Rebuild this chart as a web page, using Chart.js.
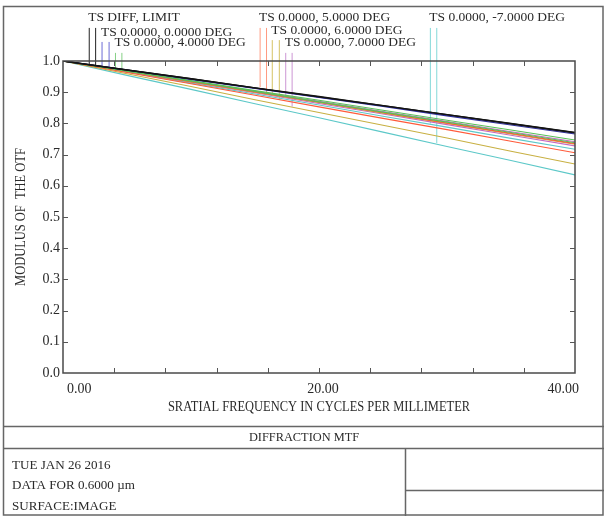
<!DOCTYPE html>
<html>
<head>
<meta charset="utf-8">
<script src="https://cdn.jsdelivr.net/npm/chart.js@4"></script>
<style>
  html, body { margin: 0; padding: 0; background: #fff; }
  #wrap { position: relative; width: 604px; height: 516px; }
</style>
</head>
<body>
<div id="wrap"><canvas id="mtf"></canvas></div>
<script>
// spatial frequency samples (cycles/mm)
const frequencies = [0, 5, 10, 15, 20, 25, 30, 35, 40];

// MTF values, tangential / sagittal for each field
const diffLimitT = [1.000, 0.971, 0.943, 0.914, 0.886, 0.857, 0.828, 0.800, 0.771];
const diffLimitS = [1.000, 0.971, 0.943, 0.914, 0.885, 0.857, 0.828, 0.799, 0.770];
const field0T    = [1.000, 0.971, 0.942, 0.913, 0.884, 0.856, 0.827, 0.798, 0.769];
const field0S    = [1.000, 0.971, 0.941, 0.912, 0.883, 0.854, 0.824, 0.795, 0.766];
const field4T    = [1.000, 0.968, 0.937, 0.905, 0.874, 0.842, 0.810, 0.779, 0.747];
const field4S    = [1.000, 0.967, 0.935, 0.902, 0.869, 0.836, 0.804, 0.771, 0.738];
const field5T    = [1.000, 0.967, 0.934, 0.901, 0.868, 0.834, 0.801, 0.768, 0.735];
const field5S    = [1.000, 0.963, 0.927, 0.890, 0.853, 0.816, 0.780, 0.743, 0.706];
const field6T    = [1.000, 0.967, 0.933, 0.900, 0.867, 0.833, 0.800, 0.766, 0.733];
const field6S    = [1.000, 0.959, 0.918, 0.876, 0.835, 0.794, 0.753, 0.711, 0.670];
const field7T    = [1.000, 0.968, 0.935, 0.903, 0.871, 0.838, 0.806, 0.773, 0.741];
const field7S    = [1.000, 0.966, 0.932, 0.898, 0.864, 0.830, 0.796, 0.762, 0.728];
const fieldM7T   = [1.000, 0.965, 0.929, 0.894, 0.859, 0.823, 0.788, 0.752, 0.717];
const fieldM7S   = [1.000, 0.954, 0.909, 0.863, 0.818, 0.772, 0.726, 0.681, 0.635];

const fieldLabels = [
    'TS DIFF, LIMIT',
    'TS 0.0000, 0.0000 DEG',
    'TS 0.0000, 4.0000 DEG',
    'TS 0.0000, 5.0000 DEG',
    'TS 0.0000, 6.0000 DEG',
    'TS 0.0000, 7.0000 DEG',
    'TS 0.0000, -7.0000 DEG'
];
const fieldSeries = [
    [diffLimitT, diffLimitS],
    [field0T, field0S],
    [field4T, field4S],
    [field5T, field5S],
    [field6T, field6S],
    [field7T, field7S],
    [fieldM7T, fieldM7S]
];

// legend marker lines: frequency of T and S tick, where they meet the curve, and top end
const markerFreq   = [[2.05, 2.55], [3.05, 3.6], [4.1, 4.6], [15.4, 15.9], [16.35, 16.9], [17.4, 17.9], [28.7, 29.2]];
const markerBottom = [[0.988, 0.985], [0.982, 0.979], [0.978, 0.975], [0.916, 0.896], [0.891, 0.875], [0.886, 0.854], [0.800, 0.737]];
const markerTop    = [1.106, 1.061, 1.026, 1.106, 1.067, 1.026, 1.106];

// tick labels
const xTickValues = [0, 20, 40];
const xTickLabels = ['0.00', '20.00', '40.00'];
const yTickLabels = ['0.0', '0.1', '0.2', '0.3', '0.4', '0.5', '0.6', '0.7', '0.8', '0.9', '1.0'];

const xTitle = 'SRATIAL FREQUENCY IN CYCLES PER MILLIMETER';
const yTitle = 'MODULUS OF  THE OTF';
const panelTitle = 'DIFFRACTION MTF';
const panelLines = ['TUE JAN 26 2016', 'DATA FOR 0.6000 \u00b5m', 'SURFACE:IMAGE'];

const curveColors  = ['#141414', '#30309a', '#58c058', '#ff5a3a', '#c8b042', '#c468c4', '#5cc8c8'];
const markerColors = ['#222222', '#6c6cd6', '#86d086', '#ff9a80', '#d6c264', '#cc96d4', '#84d8d8'];

const SERIF = '"Liberation Serif", "DejaVu Serif", serif';
const INK = '#2a2a2a';

const datasets = [];
fieldSeries.forEach((pair, i) => {
    pair.forEach((values, j) => {
        datasets.push({
            label: fieldLabels[i] + (j === 0 ? ' T' : ' S'),
            data: frequencies.map((f, k) => ({ x: f, y: values[k] })),
            borderColor: curveColors[i],
            borderWidth: i === 0 ? 1.4 : 1.1,
            pointRadius: 0,
            tension: 0
        });
    });
});
fieldSeries.forEach((pair, i) => {
    [0, 1].forEach(j => {
        datasets.push({
            label: 'marker',
            data: [
                { x: markerFreq[i][j], y: markerBottom[i][j] },
                { x: markerFreq[i][j], y: markerTop[i] }
            ],
            borderColor: markerColors[i],
            borderWidth: 1,
            pointRadius: 0,
            clip: false
        });
    });
});

// draw text, squeezed horizontally so it fits the look of the original plot font
function drawText(ctx, text, x, y, font, align, squeeze) {
    ctx.save();
    ctx.font = font;
    ctx.fillStyle = INK;
    ctx.textBaseline = 'middle';
    ctx.textAlign = 'left';
    const w = ctx.measureText(text).width * squeeze;
    let left = x;
    if (align === 'center') left = x - w / 2;
    if (align === 'right') left = x - w;
    ctx.translate(left, y);
    ctx.scale(squeeze, 1);
    ctx.fillText(text, 0, 0);
    ctx.restore();
}

const decorPlugin = {
    id: 'decor',
    afterDraw(chart) {
        const ctx = chart.ctx;
        const area = chart.chartArea;
        const xs = chart.scales.x;
        const ys = chart.scales.y;

        ctx.save();
        // plot frame
        ctx.strokeStyle = '#4a4a4a';
        ctx.lineWidth = 1.5;
        ctx.strokeRect(area.left, area.top, area.right - area.left, area.bottom - area.top);

        // inner ticks on all four sides
        ctx.lineWidth = 1;
        ctx.strokeStyle = '#555';
        ctx.beginPath();
        xs.ticks.forEach(t => {
            const px = Math.round(xs.getPixelForValue(t.value)) + 0.5;
            if (t.value === xs.min || t.value === xs.max) return;
            ctx.moveTo(px, area.bottom); ctx.lineTo(px, area.bottom - 5);
            ctx.moveTo(px, area.top); ctx.lineTo(px, area.top + 5);
        });
        ys.ticks.forEach(t => {
            const py = Math.round(ys.getPixelForValue(t.value)) + 0.5;
            if (t.value === ys.min || t.value === ys.max) return;
            ctx.moveTo(area.left, py); ctx.lineTo(area.left + 5, py);
            ctx.moveTo(area.right, py); ctx.lineTo(area.right - 5, py);
        });
        ctx.stroke();

        // field labels above their marker lines
        fieldLabels.forEach((lab, i) => {
            const px = xs.getPixelForValue(markerFreq[i][0]) - 1;
            const py = ys.getPixelForValue(markerTop[i]) - 10;
            drawText(ctx, lab, px, py, '13.5px ' + SERIF, 'left', 1);
        });

        // axis titles
        drawText(ctx, xTitle, (area.left + area.right) / 2, 407, '14px ' + SERIF, 'center', 0.89);
        ctx.save();
        ctx.translate(21, (area.top + area.bottom) / 2);
        ctx.rotate(-Math.PI / 2);
        drawText(ctx, yTitle, 0, 0, '14px ' + SERIF, 'center', 0.89);
        ctx.restore();

        // outer frame and info panel
        ctx.strokeStyle = '#666';
        ctx.lineWidth = 1.5;
        ctx.strokeRect(3.5, 6.5, 599.5, 508.5);
        ctx.beginPath();
        ctx.moveTo(3, 426.5); ctx.lineTo(604, 426.5);
        ctx.moveTo(3, 448.5); ctx.lineTo(604, 448.5);
        ctx.moveTo(405.5, 448); ctx.lineTo(405.5, 516);
        ctx.moveTo(405, 490.5); ctx.lineTo(604, 490.5);
        ctx.stroke();

        drawText(ctx, panelTitle, 304, 437.5, '13px ' + SERIF, 'center', 0.95);
        panelLines.forEach((line, i) => {
            drawText(ctx, line, 12, 465 + i * 20.5, '13.5px ' + SERIF, 'left', 0.97);
        });
        ctx.restore();
    }
};

new Chart(document.getElementById('mtf'), {
    type: 'line',
    data: { datasets },
    options: {
        responsive: true,
        maintainAspectRatio: false,
        animation: false,
        events: [],
        layout: { padding: { top: 61, right: 29, bottom: 0, left: 0 } },
        plugins: {
            legend: { display: false },
            tooltip: { enabled: false }
        },
        scales: {
            x: {
                type: 'linear',
                min: 0,
                max: 40,
                grid: { display: false, drawTicks: false },
                border: { display: false },
                ticks: {
                    stepSize: 4,
                    autoSkip: false,
                    maxRotation: 0,
                    align: 'inner',
                    labelOffset: 4,
                    padding: 8,
                    color: INK,
                    font: { family: SERIF, size: 14 },
                    callback: v => {
                        const k = xTickValues.indexOf(v);
                        return k >= 0 ? xTickLabels[k] : '';
                    }
                },
                afterFit: s => { s.height = 516 - 373; }
            },
            y: {
                min: 0,
                max: 1,
                grid: { display: false, drawTicks: false },
                border: { display: false },
                ticks: {
                    stepSize: 0.1,
                    padding: 3,
                    color: INK,
                    font: { family: SERIF, size: 14 },
                    callback: v => yTickLabels[Math.round(v * 10)]
                },
                afterFit: s => { s.width = 63; }
            }
        }
    },
    plugins: [decorPlugin]
});
</script>
</body>
</html>
